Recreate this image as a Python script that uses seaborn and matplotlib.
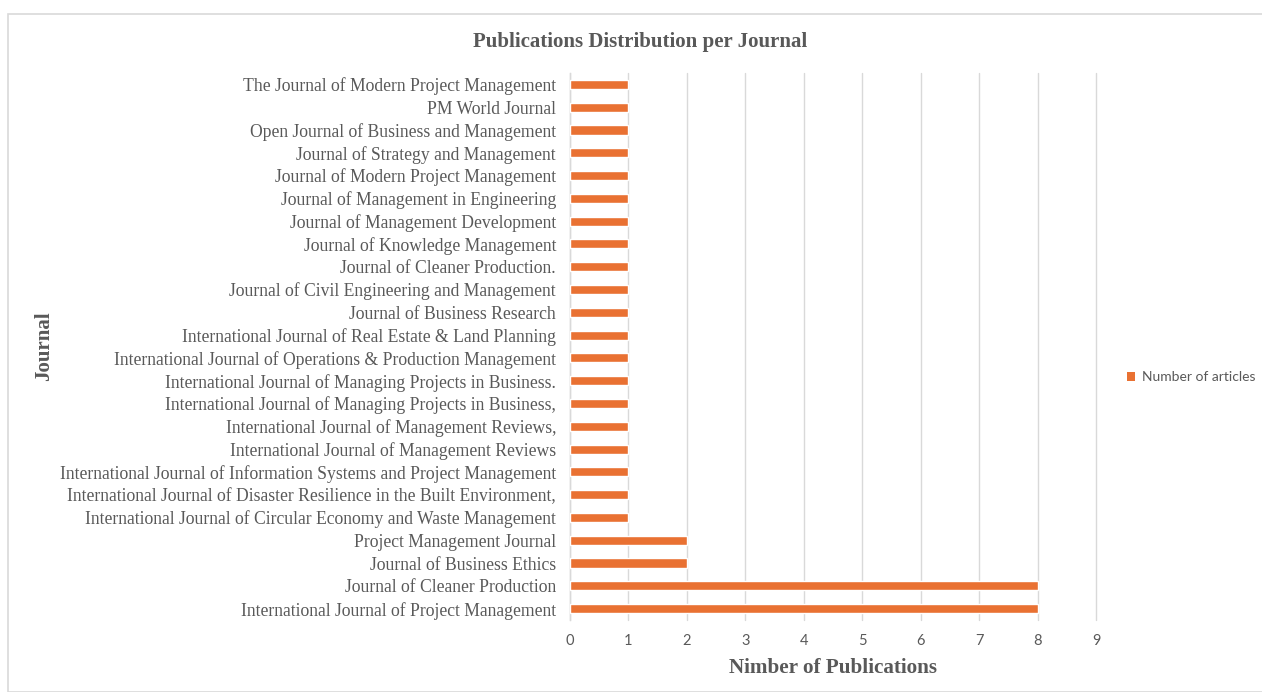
import matplotlib
matplotlib.use("Agg")
import matplotlib.pyplot as plt
import seaborn as sns
import pandas as pd
from matplotlib.patches import Rectangle, Patch
from matplotlib.ticker import FixedLocator

journals = [
    "The Journal of Modern Project Management",
    "PM World Journal",
    "Open Journal of Business and Management",
    "Journal of Strategy and Management",
    "Journal of Modern Project Management",
    "Journal of Management in Engineering",
    "Journal of Management Development",
    "Journal of Knowledge Management",
    "Journal of Cleaner Production.",
    "Journal of Civil Engineering and Management",
    "Journal of Business Research",
    "International Journal of Real Estate & Land Planning",
    "International Journal of Operations & Production Management",
    "International Journal of Managing Projects in Business.",
    "International Journal of Managing Projects in Business,",
    "International Journal of Management Reviews,",
    "International Journal of Management Reviews",
    "International Journal of Information Systems and Project Management",
    "International Journal of Disaster Resilience in the Built Environment,",
    "International Journal of Circular Economy and Waste Management",
    "Project Management Journal",
    "Journal of Business Ethics",
    "Journal of Cleaner Production",
    "International Journal of Project Management",
]
articles = [1, 1, 1, 1, 1, 1, 1, 1, 1, 1, 1, 1, 1, 1, 1, 1, 1, 1, 1, 1, 2, 2, 8, 8]
x_ticks = [0, 1, 2, 3, 4, 5, 6, 7, 8, 9]

title = "Publications Distribution per Journal"
x_label = "Nimber of Publications"
y_label = "Journal"
legend_label = "Number of articles"

ORANGE = "#E97132"
TEXT = "#595959"
GRID = "#D9D9D9"
SERIF = "Liberation Serif"
SANS = "Lato"

sns.set_theme(style="white")
plt.rcParams["font.family"] = [SERIF, "DejaVu Sans"]

df = pd.DataFrame({"Journal": journals, "Articles": articles})

fig = plt.figure(figsize=(12.62, 6.92), dpi=100)
W, H = 1262, 692
ax = fig.add_axes([570 / W, 1 - 620 / H, (1096 - 570) / W, (620 - 73) / H])

sns.barplot(data=df, x="Articles", y="Journal", orient="h", color=ORANGE,
            width=0.4, saturation=1, ax=ax, zorder=3)

ax.set_xlim(0, 9)
ax.set_ylim(len(journals) - 0.5, -0.5)
ax.set_xticks(x_ticks)
ax.set_xticklabels([str(t) for t in x_ticks], family=SANS, color=TEXT, fontsize=10.5)
ax.xaxis.grid(True, color=GRID, linewidth=1, zorder=0)
for gl in ax.get_xgridlines():
    gl.set_clip_on(False)
ax.yaxis.grid(False)
for s in ["top", "right", "bottom"]:
    ax.spines[s].set_visible(False)
ax.spines["left"].set_color(GRID)
ax.spines["left"].set_linewidth(1)
ax.tick_params(axis="x", length=0, pad=10)
ax.tick_params(axis="y", which="major", length=0, pad=10, labelsize=12.7, labelcolor=TEXT)
ax.yaxis.set_minor_locator(FixedLocator([i - 0.5 for i in range(len(journals) + 1)]))
ax.tick_params(axis="y", which="minor", length=4, color=GRID, width=1)
for lbl in ax.get_yticklabels():
    lbl.set_family(SERIF)

ax.set_xlabel(x_label, fontsize=15.2, fontweight="bold", color=TEXT, labelpad=7)
ax.set_ylabel(y_label, fontsize=15, fontweight="bold", color=TEXT)
ax.yaxis.set_label_coords(-(570 - 54) / (1096 - 570), 0.5)

fig.text(640 / W, 1 - 42 / H, title, ha="center", va="center",
         fontsize=15, fontweight="bold", color=TEXT)

handles = [Patch(facecolor=ORANGE, edgecolor="none", label=legend_label)]
fig.legend(handles=handles, loc="center left", bbox_to_anchor=(1127 / W, 1 - 377 / H),
           frameon=False, prop={"family": SANS, "size": 10}, labelcolor=TEXT,
           borderpad=0, borderaxespad=0,
           handlelength=0.6, handleheight=0.6, handletextpad=0.45)

fig.patches.append(Rectangle((8 / W, 0), 1.0, 1 - 14 / H, transform=fig.transFigure,
                             fill=False, edgecolor=GRID, linewidth=1.2))

fig.savefig("out.png", dpi=100)
